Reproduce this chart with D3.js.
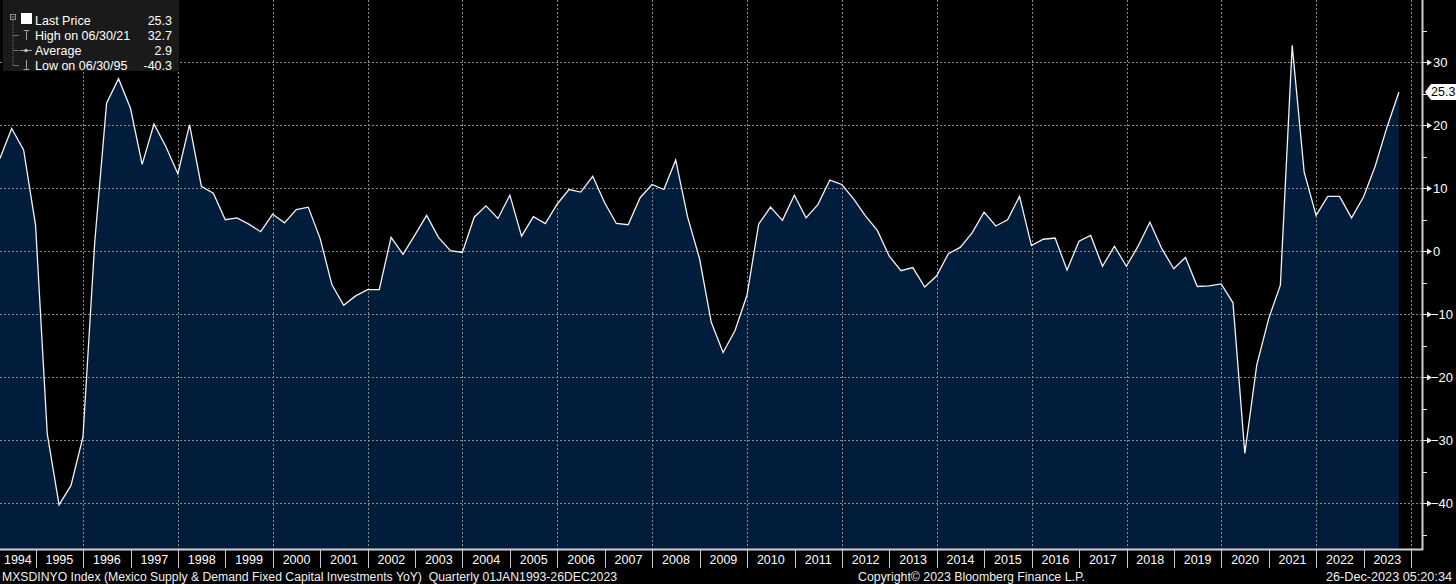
<!DOCTYPE html>
<html>
<head>
<meta charset="utf-8">
<script src="https://cdn.jsdelivr.net/npm/d3@7"></script>
<style>
html, body { margin: 0; padding: 0; background: #000; }
svg { display: block; font-family: "Liberation Sans", Arial, sans-serif; }
</style>
</head>
<body>
<div id="chart"></div>
<script>
// quarterly YoY %, 1994 Q1 .. 2023 Q3
var values = [
  14.7, 19.5, 16.1, 4.1,
  -29.0, -40.3, -37.2, -29.5,
  1.5, 23.5, 27.4, 22.7,
  13.8, 20.2, 16.6, 12.3,
  20.1, 10.3, 9.2, 5.0,
  5.3, 4.3, 3.1, 5.9,
  4.5, 6.6, 7.0, 2.0,
  -5.3, -8.6, -7.1, -6.1,
  -6.1, 2.2, -0.5, 2.6,
  5.7, 2.2, 0.1, -0.2,
  5.4, 7.2, 5.2, 8.9,
  2.4, 5.5, 4.4, 7.5,
  9.8, 9.4, 11.9, 7.7,
  4.4, 4.2, 8.5, 10.6,
  9.8, 14.5, 5.4, -1.2,
  -11.3, -16.1, -12.6, -7.0,
  4.3, 7.0, 4.9, 8.9,
  5.3, 7.4, 11.3, 10.6,
  8.3, 5.6, 3.3, -0.8,
  -3.1, -2.6, -5.7, -3.9,
  -0.4, 0.6, 2.9, 6.2,
  4.0, 5.0, 8.7, 0.9,
  1.9, 2.1, -3.0, 1.6,
  2.5, -2.4, 0.8, -2.4,
  0.8, 4.6, 0.4, -2.8,
  -1.0, -5.6, -5.5, -5.2,
  -8.2, -32.1, -18.1, -10.7,
  -5.4, 32.7, 12.6, 5.7,
  8.7, 8.7, 5.3, 8.6,
  13.5, 19.7, 25.3
];
var startYear = 1994;

var years = [1994, 1995, 1996, 1997, 1998, 1999, 2000, 2001, 2002, 2003,
             2004, 2005, 2006, 2007, 2008, 2009, 2010, 2011, 2012, 2013,
             2014, 2015, 2016, 2017, 2018, 2019, 2020, 2021, 2022, 2023];
var majorTicks = [-40, -30, -20, -10, 0, 10, 20, 30];
var minorTicks = [-45, -35, -25, -15, -5, 5, 15, 25, 35];

var legendNames = ["Last Price", "High on 06/30/21", "Average", "Low on 06/30/95"];
var legendValues = ["25.3", "32.7", "2.9", "-40.3"];
var lastLabel = "25.3";

var footerLeft = "MXSDINYO Index (Mexico Supply & Demand Fixed Capital Investments YoY)  Quarterly 01JAN1993-26DEC2023";
var footerMid = "Copyright\u00a9 2023 Bloomberg Finance L.P.";
var footerRight = "26-Dec-2023 05:20:34";

var W = 1456, H = 584;
var plotR = 1422, plotB = 549;

var data = values.map(function(v, i) {
  var yr = startYear + Math.floor(i / 4);
  var q = i % 4;
  return { date: new Date(yr, q * 3 + 3, 0), value: v };
});

var x = d3.scaleTime()
  .domain([new Date(1994, 0, 1), new Date(2024, 0, 1)])
  .range([-11.7, 1411]);
var y = d3.scaleLinear()
  .domain([-47.3, 39.9])
  .range([plotB, 0]);

var svg = d3.select("#chart").append("svg")
  .attr("width", W)
  .attr("height", H);

svg.append("rect").attr("width", W).attr("height", H).attr("fill", "#000");

svg.append("clipPath").attr("id", "plot")
  .append("rect").attr("x", 0).attr("y", 0).attr("width", plotR).attr("height", plotB);

var plot = svg.append("g").attr("clip-path", "url(#plot)");

var area = d3.area()
  .x(function(d) { return x(d.date); })
  .y0(plotB)
  .y1(function(d) { return y(d.value); });

var line = d3.line()
  .x(function(d) { return x(d.date); })
  .y(function(d) { return y(d.value); });

plot.append("path")
  .datum(data)
  .attr("d", area)
  .attr("fill", "#021d3b");

// grid
plot.selectAll(".hgrid")
  .data(majorTicks)
  .enter().append("line")
  .attr("x1", 0).attr("x2", plotR)
  .attr("y1", function(d) { return Math.round(y(d)) + 0.5; })
  .attr("y2", function(d) { return Math.round(y(d)) + 0.5; })
  .attr("stroke", "#8a8a8a")
  .attr("stroke-width", 1)
  .attr("stroke-dasharray", "2,2");

var evenYears = years.filter(function(d) { return d % 2 === 0; }).concat([2024]);
plot.selectAll(".vgrid")
  .data(evenYears)
  .enter().append("line")
  .attr("x1", function(d) { return Math.round(x(new Date(d, 0, 1))) + 0.5; })
  .attr("x2", function(d) { return Math.round(x(new Date(d, 0, 1))) + 0.5; })
  .attr("y1", 0).attr("y2", plotB)
  .attr("stroke", "#8a8a8a")
  .attr("stroke-width", 1)
  .attr("stroke-dasharray", "2,2");

plot.append("path")
  .datum(data)
  .attr("d", line)
  .attr("fill", "none")
  .attr("stroke", "#f2f2f2")
  .attr("stroke-width", 1.3)
  .attr("stroke-linejoin", "miter");

// axes lines
svg.append("line")
  .attr("x1", 0).attr("x2", plotR + 1)
  .attr("y1", plotB + 0.5).attr("y2", plotB + 0.5)
  .attr("stroke", "#d0d0d0").attr("stroke-width", 2);
svg.append("line")
  .attr("x1", plotR + 0.5).attr("x2", plotR + 0.5)
  .attr("y1", 0).attr("y2", plotB + 1)
  .attr("stroke", "#d0d0d0").attr("stroke-width", 2);

// right axis
var rax = svg.append("g");
rax.selectAll(".minor")
  .data(minorTicks)
  .enter().append("line")
  .attr("x1", plotR + 1).attr("x2", plotR + 5)
  .attr("y1", function(d) { return Math.round(y(d)) + 0.5; })
  .attr("y2", function(d) { return Math.round(y(d)) + 0.5; })
  .attr("stroke", "#e0e0e0");

var major = rax.selectAll(".major")
  .data(majorTicks)
  .enter().append("g")
  .attr("transform", function(d) { return "translate(" + plotR + "," + (Math.round(y(d)) + 0.5) + ")"; });
major.append("line")
  .attr("x1", 1).attr("x2", 6)
  .attr("stroke", "#e0e0e0");
major.append("path")
  .attr("d", "M5,-3L10,0L5,3Z")
  .attr("fill", "#f0f0f0");
major.append("text")
  .attr("x", d => d < 0 ? 9 : 11)
  .attr("y", 4.5)
  .attr("fill", "#ffffff")
  .attr("font-size", "13px")
  .text(function(d) { return d < 0 ? "\u2212" + Math.abs(d) : d; });

// last price tag
var ly = y(values[values.length - 1]);
svg.append("path")
  .attr("d", "M1425," + ly + "L1431," + (ly - 8) + "L1456," + (ly - 8) + "L1456," + (ly + 8) + "L1431," + (ly + 8) + "Z")
  .attr("fill", "#ffffff");
svg.append("text")
  .attr("x", 1431).attr("y", ly + 4.5)
  .attr("font-size", "12.5px")
  .attr("fill", "#000")
  .text(lastLabel);

// bottom axis
var bax = svg.append("g");
bax.selectAll(".sep")
  .data(years.slice(1).concat([2024]))
  .enter().append("line")
  .attr("x1", function(d) { return Math.round(x(new Date(d, 0, 1))) + 0.5; })
  .attr("x2", function(d) { return Math.round(x(new Date(d, 0, 1))) + 0.5; })
  .attr("y1", plotB).attr("y2", 568)
  .attr("stroke", "#c8c8c8").attr("stroke-width", 1);
bax.selectAll(".yl")
  .data(years)
  .enter().append("text")
  .attr("x", function(d) {
    var a = Math.max(0, x(new Date(d, 0, 1)));
    return (a + x(new Date(d + 1, 0, 1))) / 2;
  })
  .attr("y", 564)
  .attr("text-anchor", "middle")
  .attr("font-size", "12.5px")
  .attr("fill", "#ffffff")
  .text(function(d) { return d; });

// footer
svg.append("text")
  .attr("x", 2).attr("y", 581)
  .attr("font-size", "12.5px").attr("fill", "#f0f0f0")
  .style("white-space", "pre")
  .attr("textLength", 615).attr("lengthAdjust", "spacingAndGlyphs")
  .text(footerLeft);
svg.append("text")
  .attr("x", 858).attr("y", 581)
  .attr("font-size", "12.5px").attr("fill", "#f0f0f0")
  .attr("textLength", 227).attr("lengthAdjust", "spacingAndGlyphs")
  .text(footerMid);
svg.append("text")
  .attr("x", 1326).attr("y", 581)
  .attr("font-size", "12.5px").attr("fill", "#f0f0f0")
  .attr("textLength", 126).attr("lengthAdjust", "spacingAndGlyphs")
  .text(footerRight);

// legend
var leg = svg.append("g");
leg.append("rect")
  .attr("x", 3).attr("y", 0).attr("width", 176).attr("height", 71)
  .attr("fill", "#1a1a1a");
var rowY = [20, 35, 50, 65];
leg.append("rect")
  .attr("x", 10.5).attr("y", 14.5).attr("width", 5).attr("height", 5)
  .attr("fill", "none").attr("stroke", "#909090");
leg.append("line")
  .attr("x1", 11.5).attr("x2", 14.5).attr("y1", 17).attr("y2", 17)
  .attr("stroke", "#909090");
leg.append("line")
  .attr("x1", 13).attr("x2", 13).attr("y1", 20).attr("y2", 65)
  .attr("stroke", "#707070").attr("stroke-dasharray", "1,1");
leg.selectAll(".br")
  .data(rowY.slice(1))
  .enter().append("line")
  .attr("x1", 13).attr("x2", 19)
  .attr("y1", function(d) { return d + 0.5; }).attr("y2", function(d) { return d + 0.5; })
  .attr("stroke", "#707070");
leg.append("rect")
  .attr("x", 21).attr("y", 13).attr("width", 11).attr("height", 11)
  .attr("fill", "#ffffff");
// high icon
leg.append("path").attr("d", "M23.5,30.5H29.5M26.5,30.5V40")
  .attr("stroke", "#a0a0a0").attr("fill", "none");
// average icon
leg.append("line").attr("x1", 20).attr("x2", 32).attr("y1", 50.5).attr("y2", 50.5)
  .attr("stroke", "#a0a0a0");
leg.append("circle").attr("cx", 26).attr("cy", 50.5).attr("r", 1.8)
  .attr("fill", "#c0c0c0");
// low icon
leg.append("path").attr("d", "M26.5,60V69.5M23.5,69.5H29.5")
  .attr("stroke", "#a0a0a0").attr("fill", "none");

leg.selectAll(".ln")
  .data(legendNames)
  .enter().append("text")
  .attr("x", 35).attr("y", function(d, i) { return rowY[i] + 4.5; })
  .attr("font-size", "12.5px").attr("fill", "#ffffff")
  .text(function(d) { return d; });
leg.selectAll(".lv")
  .data(legendValues)
  .enter().append("text")
  .attr("x", 172).attr("y", function(d, i) { return rowY[i] + 4.5; })
  .attr("text-anchor", "end")
  .attr("font-size", "12.5px").attr("fill", "#ffffff")
  .text(function(d) { return d; });
</script>
</body>
</html>
